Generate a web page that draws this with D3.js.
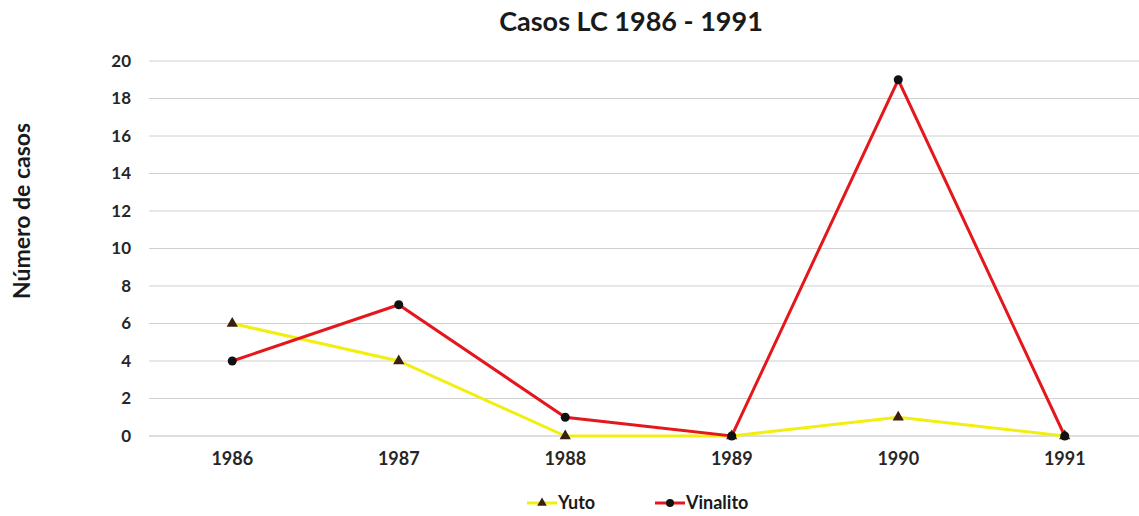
<!DOCTYPE html>
<html>
<head>
<meta charset="utf-8">
<script src="https://cdn.jsdelivr.net/npm/d3@7"></script>
<style>
  body { margin: 0; background: #fff; }
  svg { font-family: Lato, "Open Sans", sans-serif; font-weight: bold; }
</style>
</head>
<body>
<svg id="chart"></svg>
<script>
const width = 1139;
const height = 516;

const years = ['1986', '1987', '1988', '1989', '1990', '1991'];
const yuto = [6, 4, 0, 0, 1, 0];
const vinalito = [4, 7, 1, 0, 19, 0];
const yTicks = [0, 2, 4, 6, 8, 10, 12, 14, 16, 18, 20];

const svg = d3.select('#chart')
    .attr('width', width)
    .attr('height', height);

const x = d3.scaleBand().domain(years).range([149, 1148]);
const y = d3.scaleLinear().domain([0, 20]).range([436, 61]);

// grid
svg.append('g').selectAll('line').data(yTicks)
    .enter().append('line')
    .attr('x1', 149).attr('x2', 1139)
    .attr('y1', d => y(d)).attr('y2', d => y(d))
    .attr('stroke', d => d === 0 ? '#bcbcbc' : '#d0d0d0')
    .attr('stroke-width', 1);

// axes
const yAxis = svg.append('g').attr('transform', 'translate(131,0)')
    .call(d3.axisLeft(y).tickValues(yTicks).tickSize(0).tickPadding(0));
yAxis.select('.domain').remove();
yAxis.selectAll('text').attr('font-size', 17).attr('fill', '#262626')
    .attr('font-family', 'Lato, sans-serif').attr('font-weight', 'bold');

const xAxis = svg.append('g').attr('transform', 'translate(0,452)')
    .call(d3.axisBottom(x).tickSize(0).tickPadding(0));
xAxis.select('.domain').remove();
xAxis.selectAll('text').attr('font-size', 18).attr('fill', '#262626')
    .attr('font-family', 'Lato, sans-serif').attr('font-weight', 'bold');

// title + axis label
svg.append('text').attr('x', 631).attr('y', 31)
    .attr('text-anchor', 'middle').attr('font-size', 27).attr('fill', '#1a1a1a')
    .text('Casos LC 1986 - 1991');

svg.append('text')
    .attr('transform', 'translate(30,211) rotate(-90)')
    .attr('text-anchor', 'middle').attr('font-size', 23).attr('fill', '#1a1a1a')
    .text('Número de casos');

const cx = d => x(d) + x.bandwidth() / 2;
const line = d3.line().x((d, i) => cx(years[i])).y(d => y(d));

svg.append('path').datum(yuto)
    .attr('d', line).attr('fill', 'none')
    .attr('stroke', '#f2ee10').attr('stroke-width', 3);

svg.append('g').selectAll('path').data(yuto)
    .enter().append('path')
    .attr('d', d3.symbol().type(d3.symbolTriangle).size(55))
    .attr('transform', (d, i) => `translate(${cx(years[i])},${y(d)})`)
    .attr('fill', '#3a1f10');

svg.append('path').datum(vinalito)
    .attr('d', line).attr('fill', 'none')
    .attr('stroke', '#e3171c').attr('stroke-width', 3);

svg.append('g').selectAll('circle').data(vinalito)
    .enter().append('circle')
    .attr('cx', (d, i) => cx(years[i]))
    .attr('cy', d => y(d))
    .attr('r', 4.5)
    .attr('fill', '#111');

// legend
const legend = [
    { name: 'Yuto', color: '#f2ee10', mark: 'tri', x: 527 },
    { name: 'Vinalito', color: '#e3171c', mark: 'dot', x: 655 }
];
const lg = svg.append('g').selectAll('g').data(legend).enter().append('g')
    .attr('transform', d => `translate(${d.x},503)`);
lg.append('line').attr('x1', 0).attr('x2', 30).attr('y1', 0).attr('y2', 0)
    .attr('stroke', d => d.color).attr('stroke-width', 3);
lg.filter(d => d.mark === 'tri').append('path')
    .attr('d', d3.symbol().type(d3.symbolTriangle).size(40))
    .attr('transform', 'translate(15,0)').attr('fill', '#3a1f10');
lg.filter(d => d.mark === 'dot').append('circle')
    .attr('cx', 15).attr('r', 4).attr('fill', '#111');
lg.append('text').attr('x', 31).attr('y', 6)
    .attr('font-size', 18).attr('fill', '#1a1a1a')
    .text(d => d.name);
</script>
</body>
</html>
